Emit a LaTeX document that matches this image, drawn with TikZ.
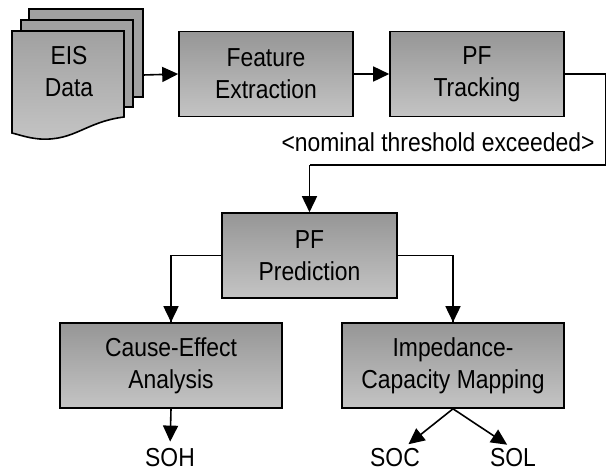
\documentclass[tikz,border=0pt]{standalone}
\usepackage{fontspec}
\setmainfont{Liberation Sans}[FakeStretch=0.88]
\usetikzlibrary{arrows.meta}

\begin{document}
\begin{tikzpicture}[x=1pt, y=-1pt,
    every node/.style={font=\fontsize{26}{32}\selectfont, align=center, inner sep=0pt},
    block/.style={draw=borderColour, line width=1.6pt, top color=fillTop, bottom color=fillBottom,
        minimum height=85pt},
    link/.style={draw=borderColour, line width=1.6pt},
    arrow/.style={link, -{Triangle[length=16pt, width=15pt]}},
    outarrow/.style={arrow, shorten >=7pt}]
    \definecolor{borderColour}{HTML}{000000}
    \definecolor{fillTop}{HTML}{969696}
    \definecolor{fillBottom}{HTML}{C4C4C4}
    \definecolor{sheetColour}{HTML}{A0A0A0}

    \useasboundingbox (0,0) rectangle (607,474);

    % Draw the stack of EIS data sheets
    \filldraw[fill=sheetColour, draw=borderColour, line width=1.6pt] (29,9) rectangle (143,97);
    \filldraw[fill=sheetColour, draw=borderColour, line width=1.6pt] (21,20) rectangle (133,107);
    \draw[top color=fillTop!90!white, bottom color=fillBottom, draw=borderColour, line width=1.6pt]
        (12,31) -- (124,31) -- (124,117) .. controls (85,122) and (75,141) .. (40,139)
        .. controls (28,138) and (20,135) .. (12,133) -- cycle;
    \node (eis) at (69,72) {EIS\\Data};
    \coordinate (stack) at (143,75);

    % Top row of blocks
    \node[block, minimum width=174pt] (feat) at (266,74) {Feature\\Extraction};
    \node[block, minimum width=174pt] (track) at (477,74) {PF\\Tracking};

    % Prediction and the two analysis blocks
    \node[block, minimum width=175pt] (pred) at (309.5,255.5) {PF\\Prediction};
    \node[block, minimum width=222pt] (cause) at (171,365.5) {Cause-Effect\\Analysis};
    \node[block, minimum width=222pt] (imped) at (453,365.5) {Impedance-\\Capacity Mapping};

    % Outputs
    \node (soh) at (170,458) {SOH};
    \node (soc) at (395,458) {SOC};
    \node (sol) at (513,458) {SOL};
    \node (thresh) at (438,142) {<nominal threshold exceeded>};

    % Connectors
    \coordinate (edgeTop) at (605.5,74);
    \coordinate (edgeLow) at (605.5,165);
    \draw[arrow] (stack) -- (feat.west);
    \draw[arrow] (feat.east) -- (track.west);
    \draw[link] (track.east) -- (edgeTop) -- (edgeLow) -- (edgeLow -| pred.north);
    \draw[arrow] (edgeLow -| pred.north) -- (pred.north);
    \draw[link] (pred.west) -| (cause.north);
    \draw[arrow] (pred.west -| cause.north) -- (cause.north);
    \draw[link] (pred.east) -| (imped.north);
    \draw[arrow] (pred.east -| imped.north) -- (imped.north);
    \draw[outarrow] (cause.south) -- (soh.north);
    \draw[outarrow] (imped.south) -- ([xshift=8pt]soc.north);
    \draw[outarrow] (imped.south) -- (sol.north);

\end{tikzpicture}
\end{document}
